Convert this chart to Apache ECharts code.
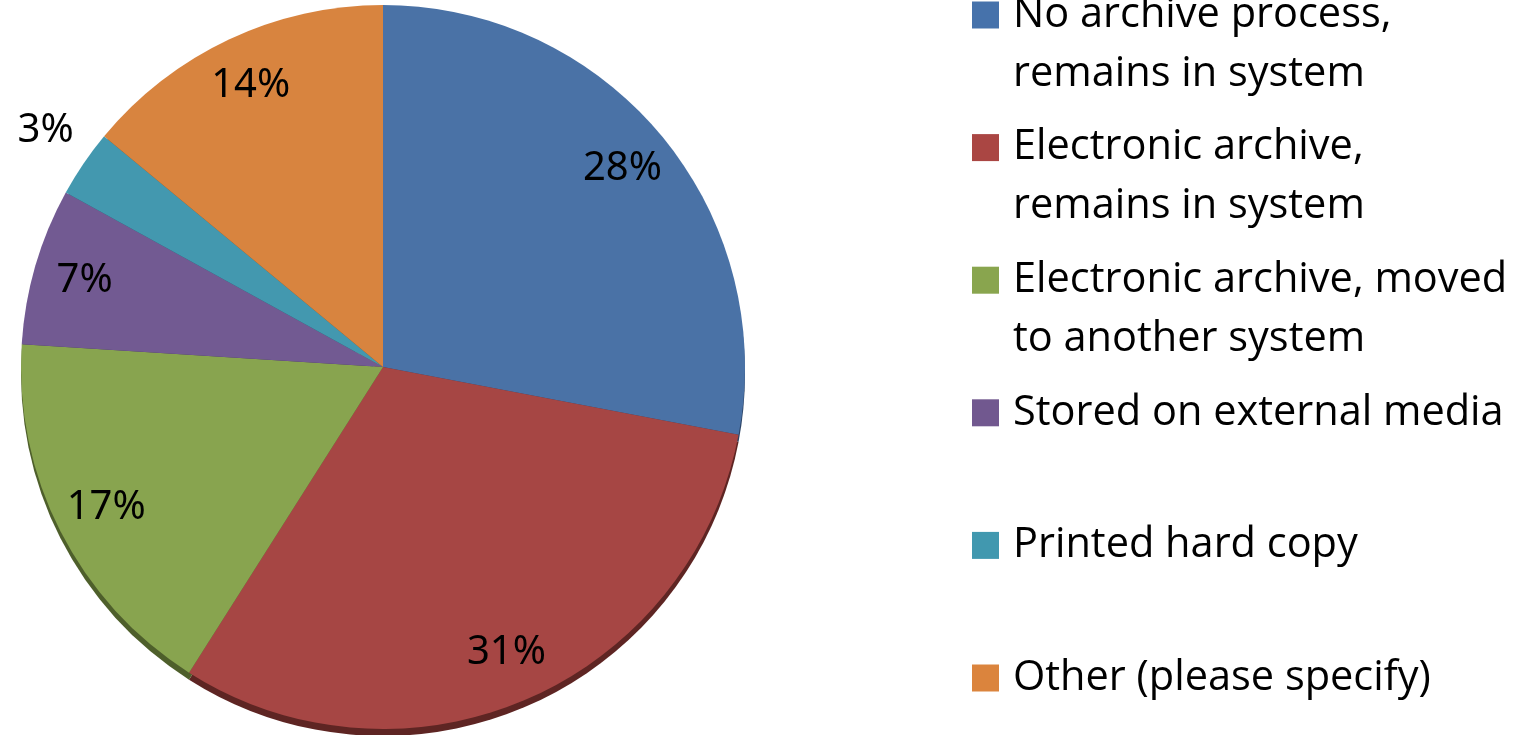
<!DOCTYPE html>
<html>
<head>
<meta charset="utf-8">
<script src="https://cdn.jsdelivr.net/npm/echarts@6/dist/echarts.min.js"></script>
<style>
html,body{margin:0;padding:0;background:#fff;}
#chart{width:1524px;height:735px;}
</style>
</head>
<body>
<div id="chart"></div>
<script>
const categories = [
  'No archive process,\nremains in system',
  'Electronic archive,\nremains in system',
  'Electronic archive, moved\nto another system',
  'Stored on external media',
  'Printed hard copy',
  'Other (please specify)'
];
const values = [28, 31, 17, 7, 3, 14];
const sliceColors = ['#4A72A6', '#A64644', '#88A44F', '#725A92', '#4398AF', '#D8843F'];
const rimColors = ['#2c4466', '#5e2523', '#4e5f2b', '#40325a', '#25596a', '#7d4a20'];
const legendColors = ['#4672AB', '#AA4643', '#89A54E', '#71588F', '#4198AF', '#DB843D'];
const outsideLabels = ['Printed hard copy'];

const cx = 383, cy = 367, R = 362;
const chart = echarts.init(document.getElementById('chart'), null, {renderer: 'canvas'});

const mainData = categories.map((n, i) => ({name: n, value: values[i], itemStyle: {color: sliceColors[i]}}));
const rimData = categories.map((n, i) => ({name: n, value: values[i], itemStyle: {color: rimColors[i]}}));
const labelData = categories.map((n, i) => {
  const outside = outsideLabels.indexOf(n) >= 0;
  return {
    name: n, value: values[i],
    label: outside ? {position: 'outside'} : {position: 'inside'},
    labelLine: {show: false, length: 58, length2: -43}
  };
});

const LH = 59;
const itemSpacing = 132.6;

chart.setOption({
  animation: false,
  backgroundColor: '#ffffff',
  legend: {
    orient: 'vertical',
    left: 972,
    top: 15 - LH * 1.5,
    height: 2000,
    padding: 0,
    itemWidth: 27,
    itemHeight: 27,
    itemGap: itemSpacing - 3 * LH,
    icon: 'rect',
    selectedMode: false,
    data: categories.map((n, i) => ({name: n, itemStyle: {color: legendColors[i]}})),
    formatter: function (name) {
      return name.indexOf('\n') >= 0 ? '\n' + name : '\n' + name + '\n';
    },
    textStyle: {
      fontFamily: 'Open Sans',
      fontSize: 41.5,
      lineHeight: LH,
      color: '#000',
      padding: [0, 0, 0, 9]
    }
  },
  series: [
    {
      type: 'pie',
      z: 3,
      center: [cx, cy],
      radius: [0, R],
      startAngle: 90,
      clockwise: true,
      silent: true,
      label: {show: false},
      labelLine: {show: false},
      data: mainData
    },
    {
      type: 'pie',
      z: 1,
      center: [cx, cy + 7],
      radius: [0, R],
      startAngle: 90,
      clockwise: true,
      silent: true,
      label: {show: false},
      labelLine: {show: false},
      data: rimData
    },
    {
      type: 'pie',
      z: 5,
      center: [cx, cy],
      radius: [R * 0.7, R],
      startAngle: 90,
      clockwise: true,
      silent: true,
      avoidLabelOverlap: false,
      itemStyle: {color: 'rgba(0,0,0,0)'},
      label: {
        show: true,
        formatter: '{c}%',
        color: '#000',
        fontSize: 40,
        fontFamily: '"Noto Sans"'
      },
      labelLine: {show: false},
      data: labelData
    }
  ]
});
</script>
</body>
</html>
